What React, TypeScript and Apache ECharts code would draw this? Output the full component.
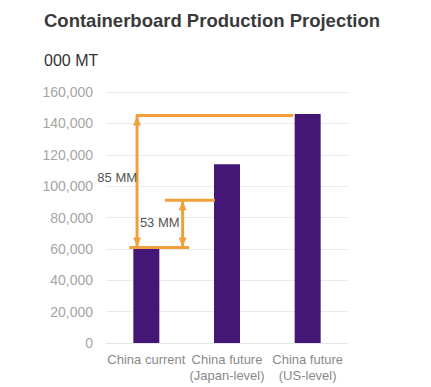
import React, { useEffect, useRef } from "react";
import * as echarts from "echarts";

const categories = ["China current", "China future\n(Japan-level)", "China future\n(US-level)"];
const production = [60000, 114000, 146000];
const yTicks = { min: 0, max: 160000, interval: 20000 };

// bracket segments in data space: [xStart, yStart, xEnd, yEnd, hasArrows]
const bracketSegments = [
  [-0.21, 60800, 0.53, 60800, 0],
  [-0.13, 145000, 1.82, 145000, 0],
  [0.23, 91000, 0.85, 91000, 0],
  [-0.115, 145000, -0.115, 60800, 1],
  [0.45, 91000, 0.45, 60800, 1],
];
const gapLabels = ["85 MM", "53 MM"];
const gapLabelPoints = [
  [-0.115, 105700],
  [-0.08, 77000],
];
const gapLabelAlign = ["right", "left"];

const FONT = "'Liberation Sans', Arial, sans-serif";
const ORANGE = "#F0A03A";

export default function App() {
  const ref = useRef<HTMLDivElement>(null);
  useEffect(() => {
    const chart = echarts.init(ref.current!, null, { renderer: "svg" });
    chart.setOption({
      animation: false,
      backgroundColor: "#ffffff",
      textStyle: { fontFamily: FONT },
      title: [
        {
          text: "Containerboard Production Projection",
          left: 39,
          top: 6,
          textStyle: { fontFamily: FONT, fontSize: 18.5, fontWeight: "bold", color: "#3a3a3a" },
        },
        {
          text: "000 MT",
          left: 39,
          top: 47,
          textStyle: { fontFamily: FONT, fontSize: 16, fontWeight: "normal", color: "#333333" },
        },
      ],
      grid: { left: 106, right: 83, top: 92, bottom: 44, containLabel: false },
      xAxis: [
        {
          type: "category",
          data: categories,
          axisTick: { show: false },
          axisLine: { lineStyle: { color: "#e6e6e6" } },
          axisLabel: { color: "#8a8a8a", fontSize: 13, margin: 8, lineHeight: 16, fontFamily: FONT, interval: 0 },
        },
        { type: "value", min: -0.5, max: 2.5, show: false },
      ],
      yAxis: {
        type: "value",
        min: yTicks.min,
        max: yTicks.max,
        interval: yTicks.interval,
        axisLine: { show: false },
        axisTick: { show: false },
        axisLabel: {
          color: "#a5a5a5",
          fontSize: 14,
          margin: 13,
          fontFamily: FONT,
          formatter: (v: number) => v.toLocaleString("en-US"),
        },
        splitLine: { lineStyle: { color: "#ebebeb" } },
      },
      series: [
        {
          type: "bar",
          data: production,
          barWidth: 26,
          itemStyle: { color: "#441675" },
        },
        {
          type: "custom",
          xAxisIndex: 1,
          clip: false,
          z: 5,
          data: bracketSegments,
          renderItem: (params: any, api: any) => {
            const p1 = api.coord([api.value(0), api.value(1)]);
            const p2 = api.coord([api.value(2), api.value(3)]);
            const children: any[] = [
              {
                type: "line",
                shape: { x1: p1[0], y1: p1[1], x2: p2[0], y2: p2[1] },
                style: { stroke: ORANGE, lineWidth: 3 },
              },
            ];
            if (api.value(4)) {
              children.push({
                type: "polygon",
                shape: { points: [[p1[0], p1[1] + 1], [p1[0] - 4, p1[1] + 10], [p1[0] + 4, p1[1] + 10]] },
                style: { fill: ORANGE },
              });
              children.push({
                type: "polygon",
                shape: { points: [[p2[0], p2[1] - 1], [p2[0] - 4, p2[1] - 10], [p2[0] + 4, p2[1] - 10]] },
                style: { fill: ORANGE },
              });
            }
            return { type: "group", children };
          },
        },
        {
          type: "custom",
          xAxisIndex: 1,
          clip: false,
          z: 6,
          data: gapLabelPoints,
          renderItem: (params: any, api: any) => {
            const p = api.coord([api.value(0), api.value(1)]);
            return {
              type: "text",
              x: p[0],
              y: p[1],
              style: {
                text: gapLabels[params.dataIndex],
                fill: "#555555",
                fontSize: 13,
                fontFamily: FONT,
                align: gapLabelAlign[params.dataIndex],
                verticalAlign: "middle",
              },
            };
          },
        },
      ],
    });
    return () => chart.dispose();
  }, []);
  return <div ref={ref} style={{ position: "fixed", left: 0, top: 0, width: 431, height: 387 }} />;
}
